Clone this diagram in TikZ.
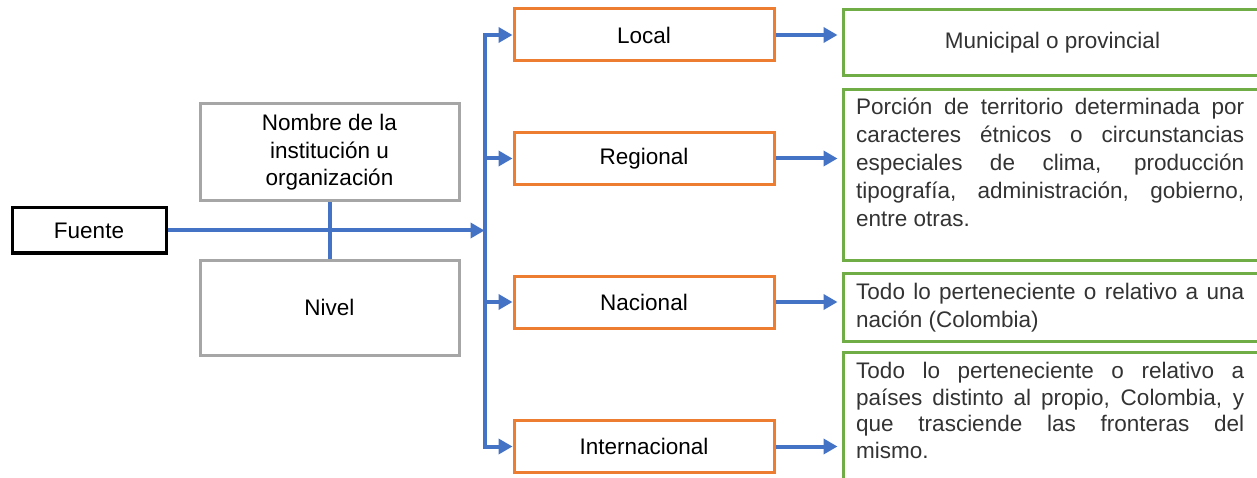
\documentclass[tikz,border=0pt]{standalone}
\usepackage{fontspec}
\setmainfont{Liberation Sans}
\usetikzlibrary{arrows.meta}
\definecolor{cblue}{HTML}{4472C4}
\definecolor{corange}{HTML}{ED7D31}
\definecolor{cgreen}{HTML}{70AD47}
\definecolor{cgray}{HTML}{A6A6A6}
\definecolor{ctext}{HTML}{333333}
\tikzset{
  every node/.style={font=\fontsize{22.5}{27.5}\selectfont},
  fuentebox/.style={draw=black, line width=3pt, fill=white, minimum width=154pt, minimum height=45pt, inner sep=0pt},
  graybox/.style={draw=cgray, line width=3pt, fill=white, minimum width=259pt, inner sep=0pt, align=center},
  orangebox/.style={draw=corange, line width=3pt, fill=white, minimum width=260pt, minimum height=52pt, inner sep=0pt},
  greenbox/.style={draw=cgreen, line width=3pt, fill=white, minimum width=419pt, inner sep=0pt, text=ctext},
  greentext/.style={anchor=north west, inner sep=0pt, text width=388pt, align=justify, text=ctext, font=\fontsize{22.5}{28}\selectfont},
  conn/.style={draw=cblue, line width=4pt},
  arr/.style={-{Triangle[length=14pt,width=15pt]}},
}
\begin{document}
\begin{tikzpicture}[x=1pt,y=-1pt]
\useasboundingbox (0,0) rectangle (1257,478);
\clip (0,0) rectangle (1257,478);
\fill[white] (0,0) rectangle (1257,478);

% left
\node[fuentebox] (fuente) at (89,230.5) {Fuente};
\node[graybox, minimum height=97pt] (nombre) at (329.5,152.5) {Nombre de la\\institución u\\organización};
\node[graybox, minimum height=95pt] (nivel) at (329.5,307.5) {Nivel};

% orange level boxes
\node[orangebox] (oL) at (644,35) {Local};
\node[orangebox] (oR) at (644,158.5) {Regional};
\node[orangebox] (oN) at (644,302) {Nacional};
\node[orangebox] (oI) at (644,446.5) {Internacional};

% green description boxes
\node[greenbox, minimum height=66pt] (gL) at (1052.5,43) {Municipal o provincial};
\node[greenbox, minimum height=170pt] (gR) at (1052.5,175) {};
\node[greenbox, minimum height=68pt] (gN) at (1052.5,307) {};
\node[greenbox, minimum height=140pt] (gI) at (1052.5,422) {};

\node[greentext] (gRt) at (856,97) {\rule{0pt}{17pt}Porción de territorio determinada por\linebreak caracteres étnicos o circunstancias\linebreak especiales de clima, producción\linebreak tipografía, administración, gobierno,\linebreak entre otras.};
\node[greentext] (gNt) at (856,282) {\rule{0pt}{17pt}Todo lo perteneciente o relativo a una\linebreak nación (Colombia)};
\node[greentext, font=\fontsize{22.5}{26.8}\selectfont] (gIt) at (856,361) {\rule{0pt}{17pt}Todo lo perteneciente o relativo a\linebreak países distinto al propio, Colombia, y\linebreak que trasciende las fronteras del\linebreak mismo.};

% connectors
\path (oL.west) ++(-28,0) coordinate (busT);
\path (oI.west) ++(-28,0) coordinate (busB);
\draw[conn] (nombre.south) -- (nivel.north);
\draw[conn, line cap=rect] (busT) -- (busB);
\draw[conn, arr] (fuente.east) -- (fuente.east -| busT);
\draw[conn, arr] (busT) -- (oL.west);
\draw[conn, arr] (oR.west -| busT) -- (oR.west);
\draw[conn, arr] (oN.west -| busT) -- (oN.west);
\draw[conn, arr] (busB) -- (oI.west);

\draw[conn, arr, shorten >=4pt] (oL.east) -- (oL.east -| gL.west);
\draw[conn, arr, shorten >=4pt] (oR.east) -- (oR.east -| gR.west);
\draw[conn, arr, shorten >=4pt] (oN.east) -- (oN.east -| gN.west);
\draw[conn, arr, shorten >=4pt] (oI.east) -- (oI.east -| gI.west);
\end{tikzpicture}
\end{document}
